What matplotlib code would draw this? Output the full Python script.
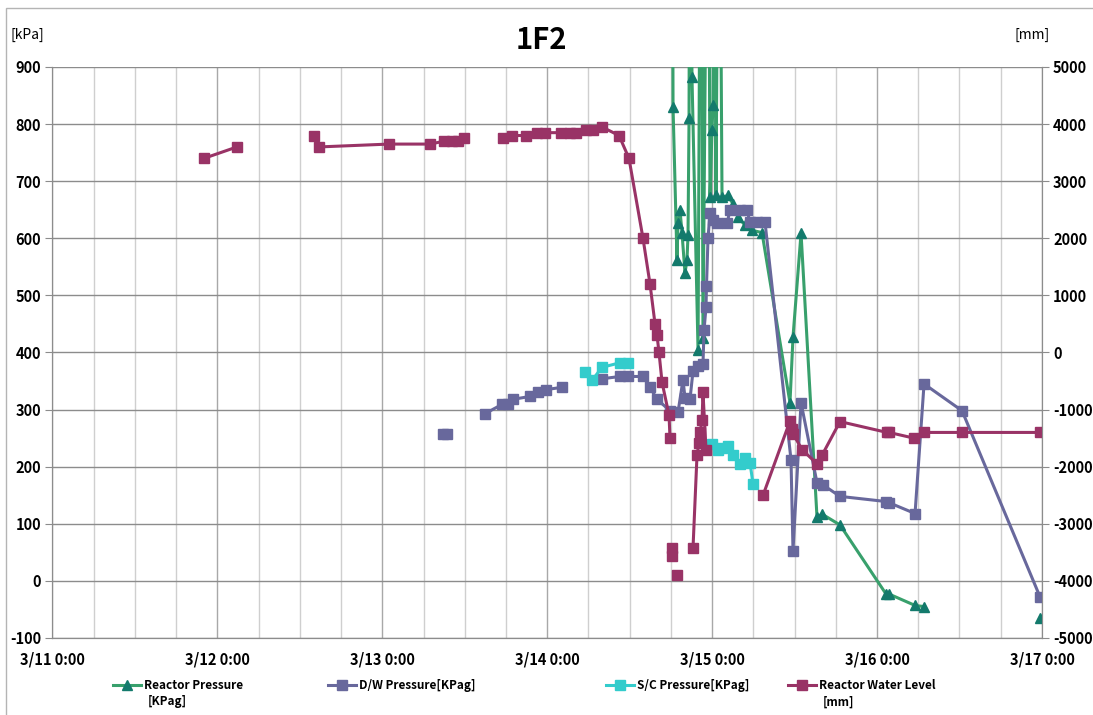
import matplotlib
matplotlib.use("Agg")
import matplotlib.pyplot as plt
import matplotlib.dates as mdates
from matplotlib.ticker import MultipleLocator, FuncFormatter
from matplotlib.patches import Rectangle
import numpy as np
import pandas as pd

plt.rcParams['font.family'] = ['Noto Sans CJK JP', 'DejaVu Sans']
plt.rcParams['axes.unicode_minus'] = False

nan = np.nan
start = pd.Timestamp('2011-03-11 00:00')

# times are hours after 3/11 0:00
rp_hours = [89.14, 90.31, 90.89, 91.03, 91.33, 91.62, 92.05, 92.34, 92.49, 92.64,
            92.78, 93.07, 93.95, 94.38, 94.67, 95.40, 95.69, 95.98, 96.13, 96.27,
            96.56, 97.00, 97.44, 98.31, 99.04, 99.77, 100.79, 101.80, 103.26, 107.33,
            107.77, 108.94, 111.26, 111.99, 114.61, 121.31, 121.74, 125.53, 126.84, 135.0,
            143.72]
rp_kpa = [7000, 830, 562, 626, 649, 609, 539, 562, 605, 810,
          1500, 882, 404, 1500, 425, 1500, 672, 790, 833, 1500,
          675, 1500, 672, 675, 660, 637, 623, 614, 610, 312,
          427, 609, 112, 117, 98, -23, -23, -43, -45, nan,
          -65]

dw_hours = [56.83, 57.41, 60.0, 62.95, 65.42, 66.29, 67.02, 69.49, 70.66, 71.82,
            74.15, 77.0, 79.97, 82.59, 83.76, 85.94, 86.96, 87.98, 89.87, 91.03,
            91.76, 92.05, 92.78, 93.22, 93.95, 94.67, 94.82, 95.11, 95.18, 95.40,
            95.69, 96.13, 96.71, 98.17, 98.60, 100.06, 101.08, 101.51, 102.53, 103.70,
            107.48, 107.77, 108.94, 111.26, 112.14, 114.61, 121.31, 121.74, 125.53, 126.84,
            132.37, 143.72]
dw_kpa = [258, 258, nan, 293, 309, 309, 318, 323, 330, 335,
          339, nan, 354, 358, 358, 358, 339, 318, 298, 295,
          352, 321, 318, 368, 377, 380, 439, 479, 517, 600,
          644, 632, 626, 626, 649, 649, 649, 628, 628, 628,
          212, 53, 312, 172, 168, 148, 139, 137, 118, 345,
          298, -28]

sc_hours = [77.50, 78.52, 79.97, 82.59, 83.76, 90.0, 95.98, 96.86, 97.44, 98.31,
            99.04, 100.06, 100.79, 101.51, 101.95]
sc_kpa = [365, 351, 374, 382, 382, nan, 240, 230, 232, 237,
          220, 205, 216, 207, 170]

wl_hours = [22.05, 26.85, 32.0, 38.06, 38.79, 48.97, 54.94, 56.98, 58.14, 59.02,
            59.89, 62.5, 65.57, 66.88, 68.91, 70.51, 71.68, 74.01, 75.32, 76.19,
            77.65, 78.66, 79.97, 82.45, 83.90, 85.94, 86.96, 87.69, 87.98, 88.27,
            88.71, 89.73, 89.87, 90.0, 90.16, 90.23, 90.5, 90.89, 92.0, 93.22,
            93.80, 94.09, 94.24, 94.53, 94.67, 95.11, 99.0, 103.41, 107.33, 107.62,
            107.77, 109.08, 111.26, 111.99, 114.61, 121.45, 121.74, 125.38, 126.84, 132.37,
            143.72]
wl_mm = [3400, 3600, nan, 3800, 3600, 3650, 3650, 3700, 3700, 3700,
         3750, nan, 3750, 3800, 3800, 3850, 3850, 3850, 3850, 3850,
         3900, 3900, 3950, 3800, 3400, 2000, 1200, 500, 300, 0,
         -520, -1100, -1500, nan, -3420, -3560, nan, -3900, nan, -3420,
         -1800, -1580, -1400, -1190, -700, -1700, nan, -2500, -1200, -1340,
         -1420, -1700, -1950, -1800, -1210, -1400, -1400, -1500, -1400, -1400,
         -1400]

labels = ["Reactor Pressure", "D/W Pressure[KPag]", "S/C Pressure[KPag]", "Reactor Water Level"]
colors = ["#38a06c", "#68689c", "#33cccc", "#993366"]


def to_time(hours):
    return start + pd.to_timedelta(hours, unit='h')


fig = plt.figure(figsize=(10.93, 7.15), dpi=100)
ax = fig.add_axes([0.0480, 0.1077, 0.9053, 0.7986])
ax2 = ax.twinx()

lw = 2.2
ms = 7.5
l1, = ax.plot(to_time(rp_hours), rp_kpa, color=colors[0], lw=lw, marker='^', ms=ms,
              mfc='#137a6c', mec='#137a6c', zorder=3)
l2, = ax.plot(to_time(dw_hours), dw_kpa, color=colors[1], lw=lw, marker='s', ms=ms,
              mfc=colors[1], mec=colors[1], zorder=4)
l3, = ax.plot(to_time(sc_hours), sc_kpa, color=colors[2], lw=lw, marker='s', ms=ms,
              mfc=colors[2], mec=colors[2], zorder=5)
l4, = ax2.plot(to_time(wl_hours), wl_mm, color=colors[3], lw=lw, marker='s', ms=ms,
               mfc=colors[3], mec=colors[3])

ax.set_xlim(start, start + pd.Timedelta(days=6))
ax.set_ylim(-100, 900)
ax2.set_ylim(-5000, 5000)
ax.yaxis.set_major_locator(MultipleLocator(100))
ax2.yaxis.set_major_locator(MultipleLocator(1000))
ax.xaxis.set_major_locator(mdates.DayLocator())
ax.xaxis.set_minor_locator(mdates.HourLocator(byhour=[6, 12, 18]))


def fmt_date(v, pos):
    d = mdates.num2date(v)
    return f"{d.month}/{d.day} {d.hour}:{d.minute:02d}"


ax.xaxis.set_major_formatter(FuncFormatter(fmt_date))

ax.grid(axis='y', color='#8c8c8c', lw=1)
ax.grid(axis='x', which='major', color='#a8a8a8', lw=1)
ax.grid(axis='x', which='minor', color='#cfcfcf', lw=1)
ax.set_axisbelow(True)

for a in (ax, ax2):
    for s in a.spines.values():
        s.set_color('#8c8c8c')
    a.spines['top'].set_visible(False)

ax.tick_params(axis='y', length=5, color='#8c8c8c', labelsize=10.5, pad=3)
ax2.tick_params(axis='y', length=5, color='#8c8c8c', labelsize=10.5, pad=3)
ax.tick_params(axis='x', which='both', length=0, labelsize=10.5, pad=10)
for t in ax.get_xticklabels() + ax.get_yticklabels() + ax2.get_yticklabels():
    t.set_fontweight('bold')

fig.text(541 / 1093, 1 - 40 / 715, "1F2", fontsize=21, ha='center', va='center', weight='bold')
fig.text(10 / 1093, 1 - 35 / 715, "[kPa]", fontsize=10, va='center')
fig.text(1015 / 1093, 1 - 35 / 715, "[mm]", fontsize=10, va='center')

# legend entries, one per series
legend_x = [113, 328, 606, 788]
for h, lab, x in zip([l1, l2, l3, l4], labels, legend_x):
    fig.legend(handles=[h], labels=[lab], loc='upper left',
               bbox_to_anchor=(x / 1093, 1 - 679 / 715), frameon=False,
               handlelength=2.4, handletextpad=0.2, borderpad=0,
               borderaxespad=0, numpoints=1, prop={'weight': 'bold', 'size': 8.5})
fig.text(148 / 1093, 1 - 702 / 715, "[KPag]", fontsize=8.5, weight='bold', va='center')
fig.text(823 / 1093, 1 - 702 / 715, "[mm]", fontsize=8.5, weight='bold', va='center')

fig.add_artist(Rectangle((6 / 1093, -0.1), 1.2, 1.1 - 8 / 715, transform=fig.transFigure,
                         fill=False, edgecolor='#b4b4b4', lw=1))

fig.savefig("out.png", dpi=100)
